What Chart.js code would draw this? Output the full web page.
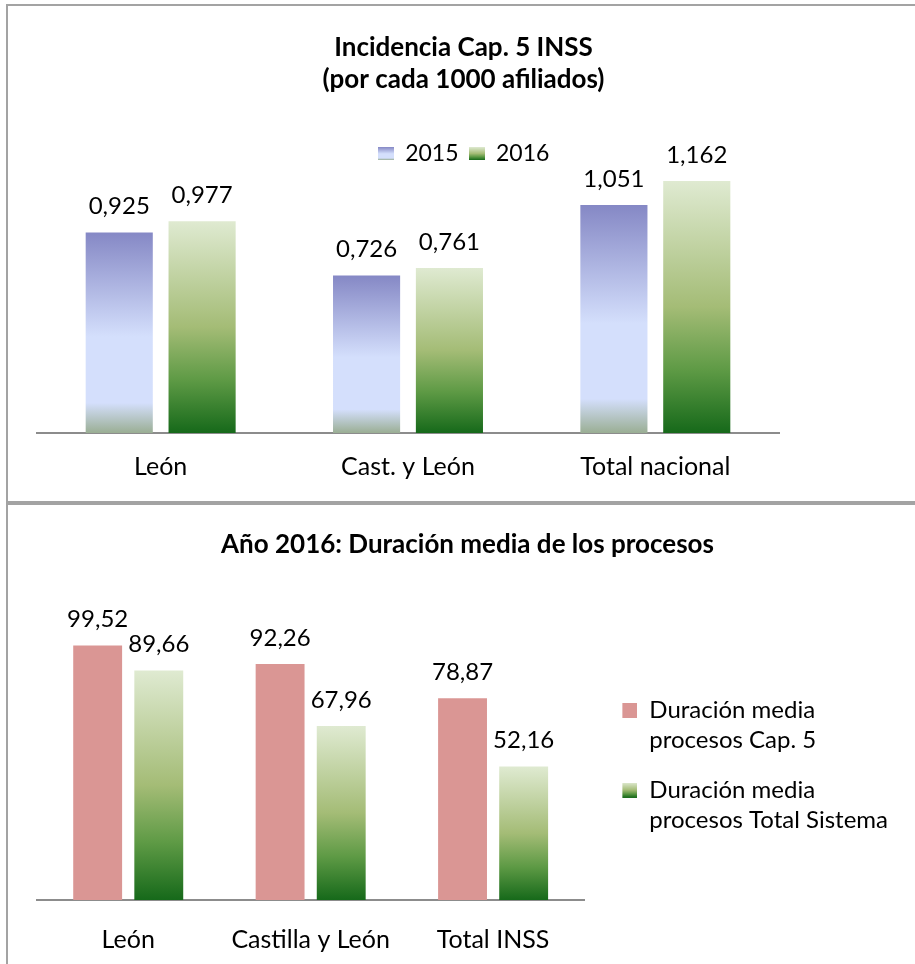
<!DOCTYPE html>
<html>
<head>
<meta charset="utf-8">
<script src="https://cdn.jsdelivr.net/npm/chart.js@4.4.0/dist/chart.umd.min.js"></script>
<style>
  body { margin: 0; background: #fff; }
  #wrap { position: relative; width: 915px; height: 964px; overflow: hidden; }
  #wrap canvas { position: absolute; left: 0; }
  .frame { position: absolute; border: 2px solid #a3a3a3; box-sizing: border-box; pointer-events: none; }
</style>
</head>
<body>
<div id="wrap">
  <canvas id="chart1" width="915" height="497" style="top:0"></canvas>
  <canvas id="chart2" width="915" height="462" style="top:502px"></canvas>
  <div class="frame" style="left:6px; top:4px; width:930px; height:499px"></div>
  <div class="frame" style="left:6px; top:503px; width:930px; height:480px"></div>
</div>
<script>
// Data
const topCategories = ["León", "Cast. y León", "Total nacional"];
const incidencia2015 = [0.925, 0.726, 1.051];
const incidencia2016 = [0.977, 0.761, 1.162];

const bottomCategories = ["León", "Castilla y León", "Total INSS"];
const duracionCap5 = [99.52, 92.26, 78.87];
const duracionTotal = [89.66, 67.96, 52.16];

Chart.defaults.font.family = "Lato";
Chart.defaults.color = "#000";

// Gradient stops (top -> bottom of each bar)
const stopsBlue = [[0, "#8588c5"], [0.52, "#d4dffc"], [0.85, "#d4dffc"], [1, "#9aae94"]];
const stopsGreen = [[0, "#dfead1"], [0.5, "#a4bc76"], [0.75, "#5e9a45"], [1, "#16691a"]];
const solidRed = [[0, "#da9694"], [1, "#da9694"]];

// Vertical gradient from the bar's top to the zero line
function barGradient(stops) {
  return (ctx) => {
    const chart = ctx.chart;
    if (!chart.chartArea || ctx.type !== "data") return stops[0][1];
    const y = chart.scales.y;
    const top = y.getPixelForValue(ctx.raw);
    const bottom = y.getPixelForValue(0);
    const g = chart.ctx.createLinearGradient(0, top, 0, bottom);
    stops.forEach((s) => g.addColorStop(s[0], s[1]));
    return g;
  };
}

// Small legend swatch (box at the right edge of a w-wide image)
function swatch(stops, w, bw, bh) {
  const c = document.createElement("canvas");
  c.width = w;
  c.height = bh;
  const g = c.getContext("2d");
  const grad = g.createLinearGradient(0, 0, 0, bh);
  stops.forEach((s) => grad.addColorStop(s[0], s[1]));
  g.fillStyle = grad;
  g.fillRect(w - bw, 0, bw, bh);
  return c;
}

// Value labels above the bars
const valueLabels = {
  id: "valueLabels",
  afterDatasetsDraw(chart, args, opts) {
    const ctx = chart.ctx;
    ctx.save();
    ctx.font = "24px Lato";
    ctx.fillStyle = "#000";
    ctx.textAlign = "center";
    ctx.textBaseline = "middle";
    chart.data.datasets.forEach((ds, i) => {
      chart.getDatasetMeta(i).data.forEach((bar, j) => {
        const txt = ds.data[j].toFixed(opts.decimals).replace(".", ",");
        ctx.fillText(txt, bar.x, bar.y - 26);
      });
    });
    ctx.restore();
  },
};

function fixedWidth(w) {
  return {
    display: true,
    grid: { display: false, drawTicks: false },
    border: { display: false },
    ticks: { display: false },
    afterFit: (s) => { s.width = w; },
  };
}

function legendItems(chart) {
  return chart.data.datasets.map((ds, i) => ({
    text: ds.label,
    pointStyle: ds.pointStyle,
    datasetIndex: i,
    lineWidth: 0,
  }));
}

// Chart 1: Incidencia
const ctx1 = document.getElementById("chart1").getContext("2d");
const chart1 = new Chart(ctx1, {
  type: "bar",
  data: {
    labels: topCategories,
    datasets: [
      {
        label: "2015",
        data: incidencia2015,
        backgroundColor: barGradient(stopsBlue),
        pointStyle: swatch(stopsBlue, 16, 16, 13),
      },
      {
        label: "2016",
        data: incidencia2016,
        backgroundColor: barGradient(stopsGreen),
        pointStyle: swatch(stopsGreen, 16, 16, 13),
      },
    ],
  },
  options: {
    responsive: false,
    animation: false,
    devicePixelRatio: 1,
    categoryPercentage: 0.67,
    barPercentage: 0.81,
    layout: { padding: { left: 12, right: 0, top: 0, bottom: 15 } },
    scales: {
      x: {
        grid: { display: false, drawTicks: false },
        border: { display: true, color: "#8c8c8c", width: 2 },
        ticks: { font: { size: 25 }, padding: 19 },
        afterFit: (s) => { s.height = 49; },
      },
      y: Object.assign(fixedWidth(25), { min: 0, max: 1.19 }),
      yr: Object.assign(fixedWidth(136), { position: "right" }),
    },
    plugins: {
      title: {
        display: true,
        text: "Incidencia Cap. 5 INSS",
        font: { size: 26, weight: "bold", lineHeight: 1.23 },
        padding: { top: 32, bottom: 0 },
      },
      subtitle: {
        display: true,
        text: "(por cada 1000 afiliados)",
        color: "#000",
        font: { size: 26, weight: "bold", lineHeight: 1.23 },
        padding: { top: 0, bottom: 36 },
      },
      legend: {
        position: "top",
        labels: {
          usePointStyle: true,
          pointStyleWidth: 16,
          font: { size: 23 },
          padding: 10,
          generateLabels: legendItems,
        },
      },
      tooltip: { enabled: false },
      valueLabels: { decimals: 3 },
    },
  },
  plugins: [valueLabels],
});

// Chart 2: Duración media
const ctx2 = document.getElementById("chart2").getContext("2d");
const chart2 = new Chart(ctx2, {
  type: "bar",
  data: {
    labels: bottomCategories,
    datasets: [
      {
        label: ["Duración media", "procesos Cap. 5"],
        data: duracionCap5,
        backgroundColor: barGradient(solidRed),
        pointStyle: swatch(solidRed, 33, 15, 15),
      },
      {
        label: ["Duración media", "procesos Total Sistema"],
        data: duracionTotal,
        backgroundColor: barGradient(stopsGreen),
        pointStyle: swatch(stopsGreen, 33, 15, 15),
      },
    ],
  },
  options: {
    responsive: false,
    animation: false,
    devicePixelRatio: 1,
    categoryPercentage: 0.67,
    barPercentage: 0.8,
    layout: { padding: { left: 37, right: 17, top: 0, bottom: 9 } },
    scales: {
      x: {
        grid: { display: false, drawTicks: false },
        border: { display: true, color: "#8c8c8c", width: 2 },
        ticks: { font: { size: 25 }, padding: 25 },
        afterFit: (s) => { s.height = 55; },
      },
      y: { display: false, min: 0, max: 120 },
    },
    plugins: {
      title: {
        display: true,
        text: "Año 2016: Duración media de los procesos",
        font: { size: 26, weight: "bold", lineHeight: 1.23 },
        padding: { top: 27, bottom: 32 },
      },
      legend: {
        position: "right",
        title: { display: true, text: "", padding: { top: 0, bottom: 64.6 } },
        labels: {
          usePointStyle: true,
          pointStyleWidth: 33,
          font: { size: 24, lineHeight: 1.25 },
          padding: 20,
          generateLabels: legendItems,
        },
      },
      tooltip: { enabled: false },
      valueLabels: { decimals: 2 },
    },
  },
  plugins: [valueLabels],
});
</script>
</body>
</html>
